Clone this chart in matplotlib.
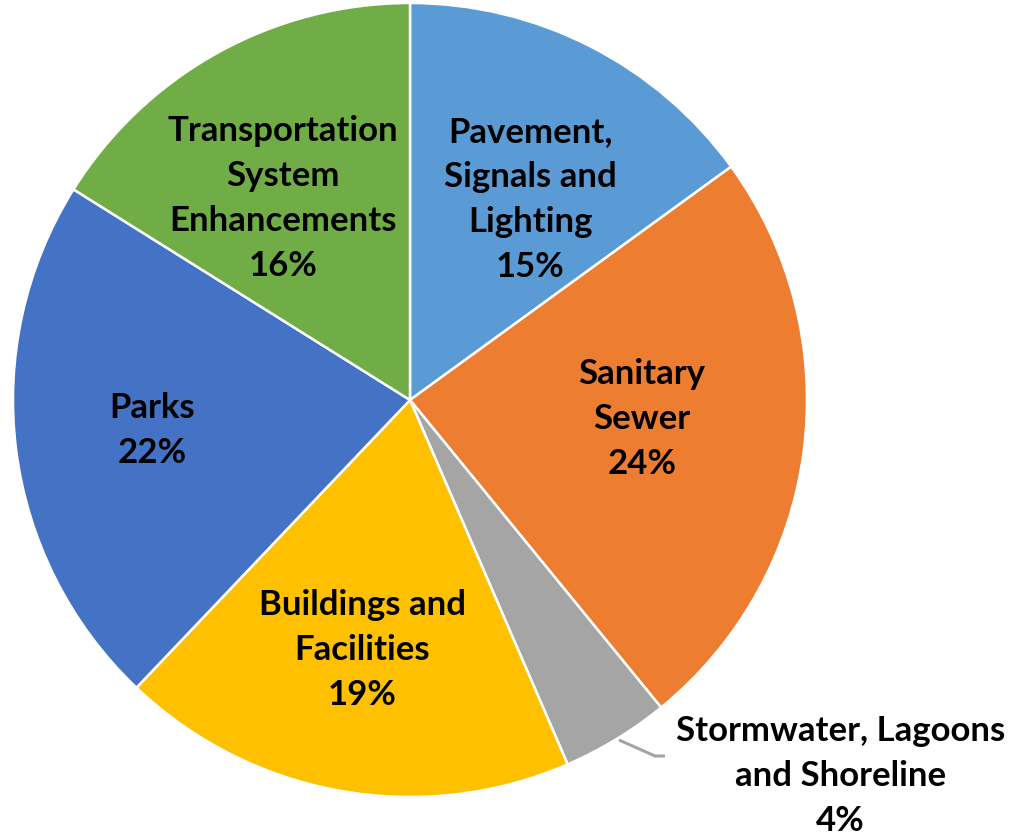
import numpy as np
import matplotlib
matplotlib.use('Agg')
import matplotlib.pyplot as plt

# ========================= DATA ===========================================

categories = [
    'Pavement,\nSignals and\nLighting',
    'Sanitary\nSewer',
    'Stormwater, Lagoons\nand Shoreline',
    'Buildings and\nFacilities',
    'Parks',
    'Transportation\nSystem\nEnhancements',
]
shares = [15.0, 24.1, 4.4, 18.6, 21.8, 16.1]
colors = ['#5B9BD5', '#ED7D31', '#A5A5A5', '#FFC000', '#4472C4', '#70AD47']

# label placement: fraction of radius and angle nudge (deg, clockwise)
label_r = [0.588, 0.586, 1.44, 0.64, 0.655, 0.60]
label_dt = [4.0, -2.8, -17.5, 0.7, 0.5, -3.3]

# ========================= FIGURE =========================================

W, H = 1011, 834
fig = plt.figure(figsize=(W / 100, H / 100), dpi=100)
ax = fig.add_axes([0, 0, 1, 1])

cx, cy, R = 410, H - 400, 397

wedges, _ = ax.pie(shares, colors=colors, startangle=90, counterclock=False,
                   center=(cx, cy), radius=R, frame=True,
                   wedgeprops=dict(edgecolor='white', linewidth=1.8))
ax.set_xlim(0, W)
ax.set_ylim(0, H)
ax.axis('off')

for w, lab, v, rf, dt in zip(wedges, categories, shares, label_r, label_dt):
    mid = np.deg2rad((w.theta1 + w.theta2) / 2 - dt)
    x = cx + rf * R * np.cos(mid)
    y = cy + rf * R * np.sin(mid)
    ax.text(x, y, f'{lab}\n{v:.0f}%', ha='center', va='center',
            fontsize=25, fontweight='bold', family='Lato',
            linespacing=1.5, color='black')

# leader line for the small slice
ax.plot([619, 655, 665], [H - 740, H - 756, H - 756], color='#A5A5A5', lw=2.2,
        solid_capstyle='butt')

fig.savefig('out.png', dpi=100)
